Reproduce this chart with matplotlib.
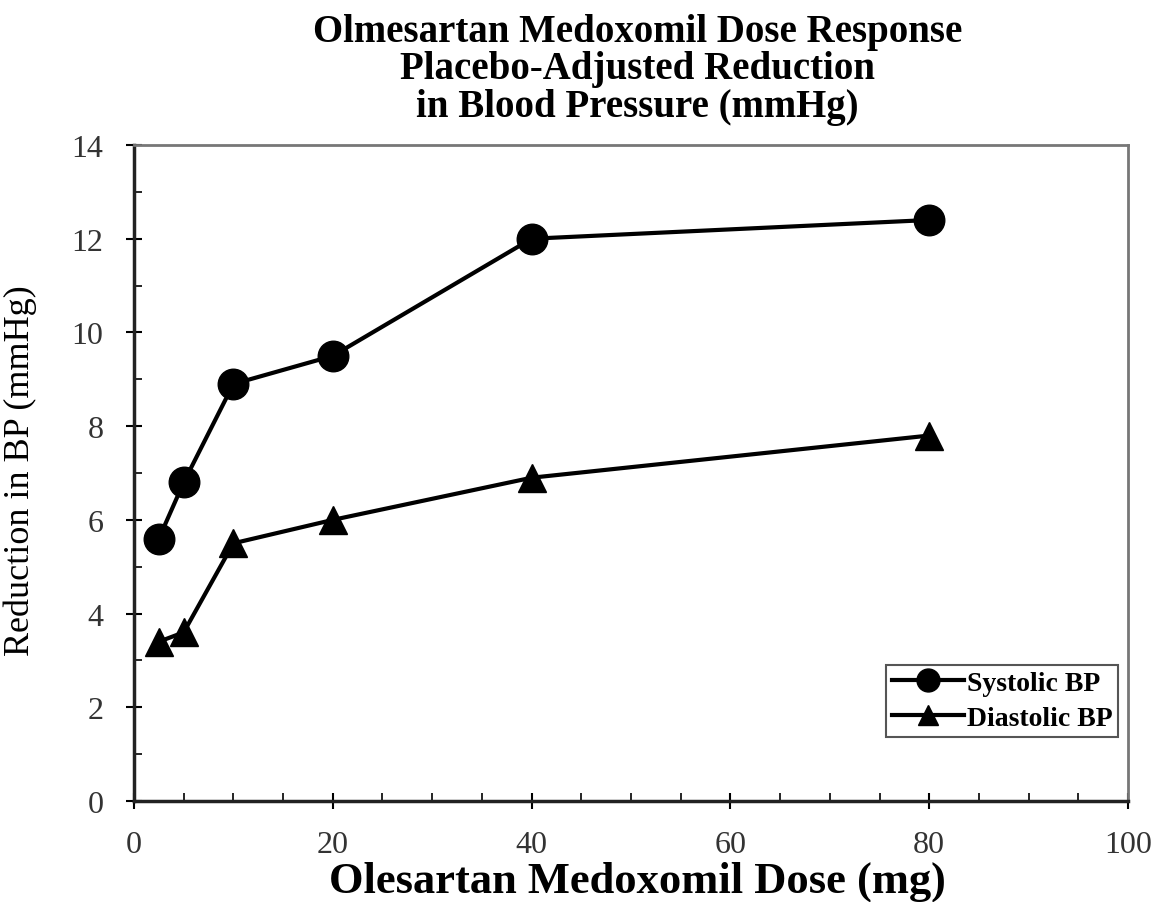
import matplotlib.pyplot as plt
from matplotlib.ticker import MultipleLocator

# datos
dosis = [2.5, 5, 10, 20, 40, 80]
sistolica = [5.6, 6.8, 8.9, 9.5, 12.0, 12.4]
diastolica = [3.4, 3.6, 5.5, 6.0, 6.9, 7.8]

plt.rcParams['font.family'] = ['Liberation Serif', 'DejaVu Serif']

fig = plt.figure(figsize=(11.59, 9.03), dpi=100)
ax = fig.add_axes([0.1156, 0.1118, 0.8577, 0.7265])

ax.plot(dosis, sistolica, color='black', lw=3, marker='o', markersize=22, label='Systolic BP')
ax.plot(dosis, diastolica, color='black', lw=3, marker='^', markersize=20, label='Diastolic BP')

ax.set_xlim(0, 100)
ax.set_ylim(0, 14)
ax.xaxis.set_major_locator(MultipleLocator(20))
ax.xaxis.set_minor_locator(MultipleLocator(5))
ax.yaxis.set_major_locator(MultipleLocator(2))
ax.yaxis.set_minor_locator(MultipleLocator(1))
ax.tick_params(which='major', direction='inout', length=12, width=1.5, labelsize=23)
ax.tick_params(axis='x', which='major', pad=15)
ax.tick_params(axis='y', which='major', pad=16)
ax.tick_params(which='minor', direction='in', length=6, width=1.2)
for lbl in ax.get_xticklabels() + ax.get_yticklabels():
    lbl.set_color('#333333')

for s in ['left', 'bottom']:
    ax.spines[s].set_linewidth(2.5)
    ax.spines[s].set_color('#222222')
for s in ['top', 'right']:
    ax.spines[s].set_linewidth(2)
    ax.spines[s].set_color('#777777')

ax.set_xlabel('Olesartan Medoxomil Dose (mg)', fontsize=32, fontweight='bold')
ax.xaxis.set_label_coords(0.506, -0.091)
ax.set_ylabel('Reduction in BP (mmHg)', fontsize=26)
ax.yaxis.set_label_coords(-0.098, 0.505)

fig.text(0.55, 0.985, 'Olmesartan Medoxomil Dose Response\nPlacebo-Adjusted Reduction\nin Blood Pressure (mmHg)',
         ha='center', va='top', fontsize=28, fontweight='bold', linespacing=1.02)

leg = ax.legend(loc='lower right', bbox_to_anchor=(0.99, 0.098), prop={'size': 20, 'weight': 'bold'},
                fancybox=False, framealpha=1, edgecolor='#555555', handlelength=2.6,
                markerscale=0.75, borderpad=0.2, labelspacing=0.35, handletextpad=0.1,
                borderaxespad=0)
leg.get_frame().set_linewidth(1.5)

plt.savefig('out.png', dpi=100)
